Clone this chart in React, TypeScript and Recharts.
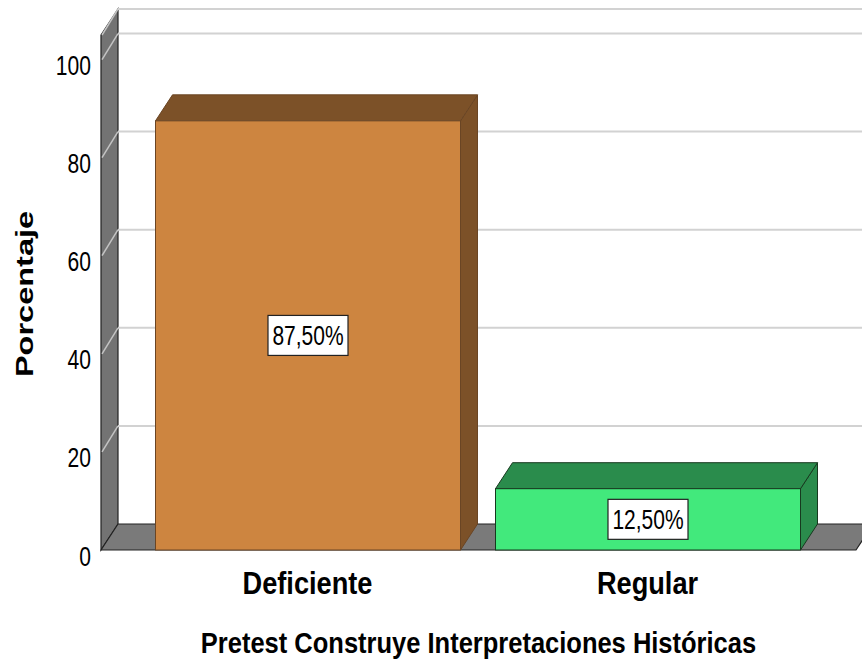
import { BarChart, Bar, XAxis, YAxis, CartesianGrid, LabelList } from "recharts";

const categories = ["Deficiente", "Regular"];
const percentages = [87.5, 12.5];
const yTicks = [0, 20, 40, 60, 80, 100];
const xTitle = "Pretest Construye Interpretaciones Históricas";
const yTitle = "Porcentaje";

const data = categories.map((name, i) => ({ name, value: percentages[i] }));

// 3D depth offset of the SPSS-style box
const DX = 17;
const DY = -26;
const SQUEEZE = 0.75;
const FONT = "Arial, 'Liberation Sans', sans-serif";

const frontColors = ["#cd8540", "#42e97c"];
const sideColors = ["#7c5128", "#2a8c4c"];
const edgeColors = ["#6a4524", "#17391f"];

const pts = (arr: number[][]) => arr.map((p) => p.join(",")).join(" ");

function GridLine(props: any) {
  const { x1, y1, x2, index } = props;
  const top = props.y ?? 35;
  const h = props.height ?? 515;
  const bottom = top + h;
  const right = x2 + DX;
  return (
    <g>
      {index === 0 && (
        <g>
          <rect x={x1 + DX} y={top + DY} width={right - x1 - DX} height={h} fill="#fff" />
          <polygon
            points={pts([[x1, top], [x1 + DX, top + DY], [x1 + DX, bottom + DY], [x1, bottom]])}
            fill="#737373"
            stroke="#222"
            strokeWidth={1.2}
          />
          <polygon
            points={pts([[x1, bottom], [x1 + DX, bottom + DY], [right, bottom + DY], [x2, bottom]])}
            fill="#7a7a7a"
            stroke="#222"
            strokeWidth={1.2}
          />
          <line x1={x1 + DX} y1={top + DY} x2={right} y2={top + DY} stroke="#222" strokeWidth={2} />
        </g>
      )}
      {Math.abs(y1 - bottom) > 1 && (
        <g>
          <line x1={x1 + 1} y1={y1} x2={x1 + DX} y2={y1 + DY} stroke="#c4c4c4" strokeWidth={1.5} />
          <line x1={x1 + DX} y1={y1 + DY} x2={right} y2={y1 + DY} stroke="#d2d2d2" strokeWidth={2} />
        </g>
      )}
    </g>
  );
}

function BoxBar(props: any) {
  const { x, y, width: w, height: h, index } = props;
  const front = frontColors[index % frontColors.length];
  const side = sideColors[index % sideColors.length];
  const edge = edgeColors[index % edgeColors.length];
  return (
    <g>
      <polygon
        points={pts([[x + w, y], [x + w + DX, y + DY], [x + w + DX, y + h + DY], [x + w, y + h]])}
        fill={side}
        stroke={edge}
        strokeWidth={1}
      />
      <polygon
        points={pts([[x, y], [x + DX, y + DY], [x + w + DX, y + DY], [x + w, y]])}
        fill={side}
        stroke={edge}
        strokeWidth={1}
      />
      <rect x={x} y={y} width={w} height={h} fill={front} stroke={edge} strokeWidth={1} />
    </g>
  );
}

function ValueLabel(props: any) {
  const { x, y, width, height, value } = props;
  const cx = x + width / 2;
  const cy = y + height / 2;
  const text = `${Number(value).toFixed(2).replace(".", ",")}%`;
  return (
    <g>
      <rect x={cx - 40} y={cy - 20} width={80} height={40} fill="#fff" stroke="#222" strokeWidth={1.2} />
      <text
        transform={`translate(${cx},${cy + 10}) scale(${SQUEEZE},1)`}
        textAnchor="middle"
        fontFamily={FONT}
        fontSize={28}
        fill="#000"
      >
        {text}
      </text>
    </g>
  );
}

function XTick(props: any) {
  const { x, y, payload } = props;
  return (
    <text
      transform={`translate(${x},${y + 44}) scale(0.85,1)`}
      textAnchor="middle"
      fontFamily={FONT}
      fontWeight="bold"
      fontSize={32}
      fill="#000"
    >
      {payload.value}
    </text>
  );
}

function YTick(props: any) {
  const { x, y, payload } = props;
  return (
    <text
      transform={`translate(${x},${y + 15.5}) scale(0.78,1)`}
      textAnchor="end"
      fontFamily={FONT}
      fontSize={27}
      fill="#000"
    >
      {payload.value}
    </text>
  );
}

function XTitle(props: any) {
  const vb = props.viewBox || { x: 101, y: 550, width: 755 };
  return (
    <text
      transform={`translate(${vb.x + vb.width / 2},${vb.y + 103}) scale(0.85,1)`}
      textAnchor="middle"
      fontFamily={FONT}
      fontWeight="bold"
      fontSize={30}
      fill="#000"
    >
      {xTitle}
    </text>
  );
}

function YTitle(props: any) {
  const vb = props.viewBox || { x: 0, y: 35, width: 101, height: 515 };
  return (
    <text
      transform={`translate(33,${vb.y + vb.height / 2 + 1.5}) rotate(-90) scale(1,${SQUEEZE})`}
      textAnchor="middle"
      fontFamily={FONT}
      fontWeight="bold"
      fontSize={32.5}
      fill="#000"
    >
      {yTitle}
    </text>
  );
}

export default function App() {
  return (
    <div style={{ width: 862, height: 661, background: "#fff" }}>
      <style>{"body{margin:0}"}</style>
      <BarChart width={862} height={661} data={data} margin={{ top: 35, right: 6, bottom: 0, left: 0 }}>
        <CartesianGrid vertical={false} horizontal={(p: any) => <GridLine {...p} />} />
        <XAxis
          dataKey="name"
          height={111}
          padding={{ left: 36.5, right: 38.5 }}
          axisLine={false}
          tickLine={false}
          tickSize={0}
          tickMargin={0}
          interval={0}
          tick={<XTick />}
          label={{ content: (p: any) => <XTitle {...p} /> }}
        />
        <YAxis
          width={101}
          domain={[0, 105]}
          ticks={yTicks}
          axisLine={false}
          tickLine={false}
          tickSize={0}
          tickMargin={10}
          tick={<YTick />}
          label={{ content: (p: any) => <YTitle {...p} /> }}
        />
        <Bar dataKey="value" barSize={305} shape={(p: any) => <BoxBar {...p} />} isAnimationActive={false}>
          <LabelList dataKey="value" content={(p: any) => <ValueLabel {...p} />} />
        </Bar>
      </BarChart>
    </div>
  );
}
